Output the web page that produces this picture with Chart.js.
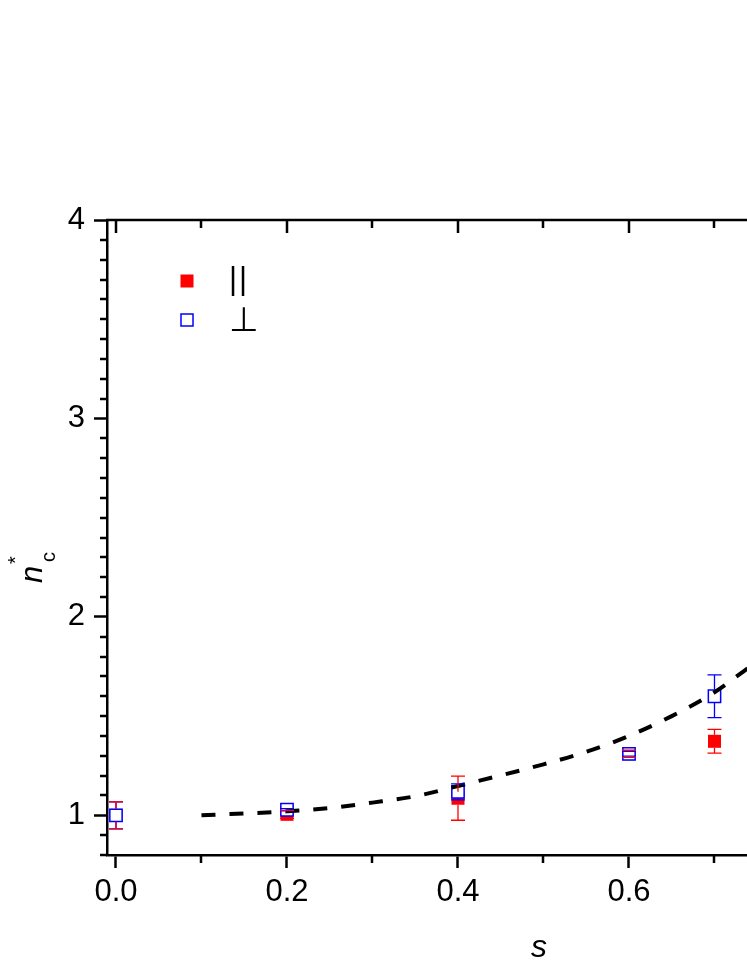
<!DOCTYPE html>
<html>
<head>
<meta charset="utf-8">
<title>n*c vs s</title>
<script src="https://cdn.jsdelivr.net/npm/chart.js@4.4.0/dist/chart.umd.min.js"></script>
<style>
  html, body { margin: 0; padding: 0; background: #fff; overflow: hidden; }
  #wrap { width: 1020px; height: 967px; }
</style>
</head>
<body>
<div id="wrap"><canvas id="nc-chart" width="1020" height="967"></canvas></div>
<script>
// measured points
const sValues = [0.0, 0.2, 0.4, 0.6, 0.7];
const parallelNc = [1.00, 1.005, 1.086, 1.31, 1.373];
const parallelErr = [0.068, 0.02, 0.111, 0.018, 0.06];
const perpNc = [1.00, 1.028, 1.118, 1.31, 1.60];
const perpErr = [0.068, 0.006, 0.04, 0.012, 0.108];

// dashed guide curve
const curveS = [0.1, 0.2, 0.25, 0.3, 0.35, 0.4, 0.5, 0.55, 0.6, 0.65, 0.7, 0.74];
const curveNc = [1.0, 1.02, 1.037, 1.064, 1.096, 1.148, 1.257, 1.32, 1.40, 1.50, 1.62, 1.745];

const xTickLabels = ['0.0', '0.2', '0.4', '0.6', '0.8', '1.0'];
const yTickLabels = ['1', '2', '3', '4'];

const FONT = '"Liberation Sans", Arial, sans-serif';
const RED = '#ff0000';
const BLUE = '#0000ff';
const AXIS_W = 2.5;

const toPoints = (xs, ys) => xs.map((s, i) => ({ x: s, y: ys[i] }));

// top/right frame, inward top ticks, minor ticks on left / bottom
const frameTicks = {
  id: 'frameTicks',
  afterDraw(chart) {
    const { ctx, chartArea: a, scales: { x, y } } = chart;
    ctx.save();
    ctx.strokeStyle = '#000';
    ctx.lineWidth = AXIS_W;
    ctx.beginPath();
    ctx.moveTo(a.left - 1, a.top);
    ctx.lineTo(a.right + 1, a.top);
    ctx.moveTo(a.right, a.top);
    ctx.lineTo(a.right, a.bottom);
    for (let k = 0; k <= 10; k++) {
      const px = Math.round(x.getPixelForValue(k / 10));
      const len = k % 2 === 0 ? 13 : 8;
      ctx.moveTo(px, a.top);
      ctx.lineTo(px, a.top + len);
      if (k % 2 === 1) {
        ctx.moveTo(px, a.bottom);
        ctx.lineTo(px, a.bottom + 8);
      }
    }
    for (let k = 8; k <= 40; k++) {
      if (k % 10 === 0) continue;
      const py = Math.round(y.getPixelForValue(k / 10));
      ctx.moveTo(a.left, py);
      ctx.lineTo(a.left - 7, py);
    }
    ctx.stroke();
    ctx.restore();
  }
};

const errorBars = {
  id: 'errorBars',
  afterDatasetsDraw(chart) {
    const { ctx, scales: { x, y } } = chart;
    const drawSet = (vals, errs, color) => {
      const half = 6.5;
      ctx.strokeStyle = color;
      ctx.lineWidth = 1.3;
      ctx.beginPath();
      vals.forEach((v, i) => {
        const px = x.getPixelForValue(sValues[i]);
        const c = y.getPixelForValue(v);
        const top = y.getPixelForValue(v + errs[i]);
        const bot = y.getPixelForValue(v - errs[i]);
        if (top < c - half) { ctx.moveTo(px, c - half); ctx.lineTo(px, top); }
        if (bot > c + half) { ctx.moveTo(px, c + half); ctx.lineTo(px, bot); }
        ctx.moveTo(px - 7, top); ctx.lineTo(px + 7, top);
        ctx.moveTo(px - 7, bot); ctx.lineTo(px + 7, bot);
      });
      ctx.stroke();
    };
    ctx.save();
    drawSet(perpNc, perpErr, BLUE);
    drawSet(parallelNc, parallelErr, RED);
    ctx.restore();
  }
};

const legendAndTitle = {
  id: 'legendAndTitle',
  afterDraw(chart) {
    const { ctx, chartArea: a } = chart;
    ctx.save();
    // legend
    const lx = a.left + 80, ly1 = a.top + 61, ly2 = a.top + 100;
    ctx.fillStyle = RED;
    ctx.fillRect(lx - 6.5, ly1 - 6.5, 13, 13);
    ctx.fillStyle = '#fff';
    ctx.strokeStyle = BLUE;
    ctx.lineWidth = 1.5;
    ctx.fillRect(lx - 6, ly2 - 6, 12, 12);
    ctx.strokeRect(lx - 6, ly2 - 6, 12, 12);
    ctx.fillStyle = '#000';
    ctx.textBaseline = 'alphabetic';
    ctx.textAlign = 'left';
    ctx.font = '31px ' + FONT;
    ctx.letterSpacing = '2px';
    ctx.fillText('||', a.left + 122, a.top + 69);
    ctx.letterSpacing = '0px';
    ctx.font = '34px "DejaVu Sans", sans-serif';
    ctx.fillText('\u22A5', a.left + 122, a.top + 111);

    // y axis title: n*c
    ctx.translate(42, 581);
    ctx.rotate(-Math.PI / 2);
    ctx.font = 'italic 31px ' + FONT;
    ctx.fillText('n', -2, 0);
    ctx.font = '20px ' + FONT;
    ctx.fillText('*', 17, -20);
    ctx.fillText('c', 19, 13);
    ctx.restore();
  }
};

new Chart(document.getElementById('nc-chart'), {
  type: 'scatter',
  data: {
    datasets: [
      {
        label: 'fit',
        data: toPoints(curveS, curveNc),
        showLine: true,
        borderColor: '#000',
        borderWidth: 4,
        borderDash: [14, 14],
        cubicInterpolationMode: 'monotone',
        pointRadius: 0,
        order: 0
      },
      {
        label: '\u22A5',
        data: toPoints(sValues, perpNc),
        pointStyle: 'rect',
        pointRadius: 8.7,
        backgroundColor: '#fff',
        borderColor: BLUE,
        borderWidth: 1.5,
        order: 1
      },
      {
        label: '||',
        data: toPoints(sValues, parallelNc),
        pointStyle: 'rect',
        pointRadius: 9.2,
        backgroundColor: RED,
        borderColor: RED,
        borderWidth: 0,
        order: 2
      }
    ]
  },
  options: {
    responsive: false,
    animation: false,
    devicePixelRatio: 1,
    layout: { padding: { top: 220, left: 0, right: 49, bottom: 0 } },
    plugins: { legend: { display: false }, tooltip: { enabled: false } },
    scales: {
      x: {
        type: 'linear',
        position: 'bottom',
        min: -0.0105,
        max: 1.0,
        afterFit: (scale) => { scale.height = 112; },
        border: { display: true, color: '#000', width: AXIS_W },
        grid: { drawOnChartArea: false, tickLength: 13, tickWidth: AXIS_W, tickColor: '#000' },
        ticks: {
          stepSize: 0.2,
          includeBounds: false,
          autoSkip: false,
          maxRotation: 0,
          padding: 6,
          color: '#000',
          font: { size: 31, family: FONT },
          callback: (v) => xTickLabels[Math.round(v / 0.2)] ?? ''
        },
        title: {
          display: true,
          text: 's',
          color: '#000',
          font: { size: 32, style: 'italic', family: FONT },
          padding: { top: 0, bottom: 0 }
        }
      },
      y: {
        type: 'linear',
        position: 'left',
        min: 0.8,
        max: 4,
        afterFit: (scale) => { scale.width = 107; },
        border: { display: true, color: '#000', width: AXIS_W },
        grid: { drawOnChartArea: false, tickLength: 13, tickWidth: AXIS_W, tickColor: '#000' },
        ticks: {
          stepSize: 1,
          includeBounds: false,
          padding: 9,
          color: '#000',
          font: { size: 31, family: FONT },
          callback: (v) => yTickLabels[Math.round(v) - 1] ?? ''
        }
      }
    }
  },
  plugins: [frameTicks, errorBars, legendAndTitle]
});
</script>
</body>
</html>
